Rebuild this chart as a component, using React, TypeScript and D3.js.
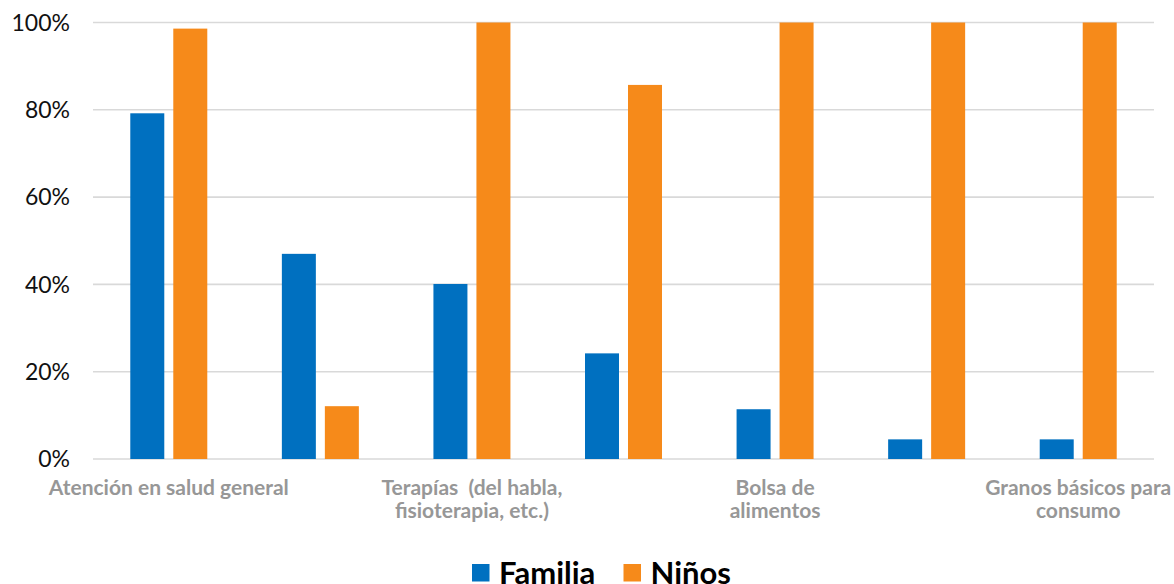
import React from "react";
import * as d3 from "d3";

// Share of households receiving each kind of support, by recipient
const categories: string[][] = [
  ["Atención en salud general"],
  [],
  ["Terapías  (del habla,", "fisioterapia, etc.)"],
  [],
  ["Bolsa de", "alimentos"],
  [],
  ["Granos básicos para", "consumo"],
];
const seriesNames = ["Familia", "Niños"];
const familia = [79.2, 47.0, 40.1, 24.2, 11.4, 4.5, 4.5];
const ninos = [98.6, 12.1, 100, 85.7, 100, 100, 100];
const yTicks = [0, 20, 40, 60, 80, 100];

const colors = ["#0070C0", "#F68A1A"];
const WIDTH = 1174;
const HEIGHT = 584;
const FONT = "Lato, 'Open Sans', sans-serif";

export default function App() {
  const left = 93;
  const right = 1154;
  const top = 22.5;
  const bottom = 459;

  const x = d3
    .scaleBand<number>()
    .domain(d3.range(categories.length))
    .range([left, right])
    .paddingInner(0)
    .paddingOuter(0);
  const step = x.bandwidth();
  const groupW = step * 0.508;
  const xs = d3
    .scaleBand<number>()
    .domain(d3.range(seriesNames.length))
    .range([(step - groupW) / 2, (step + groupW) / 2])
    .paddingInner(9 / 43);

  const y = d3.scaleLinear().domain([0, 100]).range([bottom, top]);
  const fmt = (v: number) => `${v}%`;
  const series = [familia, ninos];

  return (
    <svg
      width={WIDTH}
      height={HEIGHT}
      style={{ position: "absolute", left: 0, top: 0, background: "#fff" }}
      fontFamily={FONT}
    >
      {/* gridlines and y tick labels */}
      {yTicks.map((t) => (
        <g key={t}>
          <line
            x1={left}
            x2={right}
            y1={y(t)}
            y2={y(t)}
            stroke="#d9d9d9"
            strokeWidth={1.6}
          />
          <text
            x={70}
            y={y(t)}
            dy="0.36em"
            textAnchor="end"
            fontSize={23}
            fill="#111"
          >
            {fmt(t)}
          </text>
        </g>
      ))}

      {/* bars */}
      {series.map((vals, si) => (
        <g key={si} fill={colors[si]}>
          {vals.map((v, ci) => (
            <rect
              key={ci}
              x={(x(ci) as number) + (xs(si) as number)}
              width={xs.bandwidth()}
              y={y(v)}
              height={y(0) - y(v)}
            />
          ))}
        </g>
      ))}

      {/* category labels */}
      {categories.map((lines, ci) => (
        <text
          key={ci}
          x={(x(ci) as number) + step / 2}
          textAnchor="middle"
          fontSize={21}
          fontWeight={700}
          fill="#979797"
        >
          {lines.map((ln, li) => (
            <tspan key={li} x={(x(ci) as number) + step / 2} y={494.5 + li * 23.2} style={{ whiteSpace: "pre" }}>
              {ln}
            </tspan>
          ))}
        </text>
      ))}

      {/* legend */}
      {seriesNames.map((name, si) => {
        const lx = [472, 623.5][si];
        return (
          <g key={name}>
            <rect x={lx} y={564} width={17.5} height={17.5} fill={colors[si]} />
            <text x={lx + 27} y={583.5} fontSize={31} fontWeight={700} fill="#000">
              {name}
            </text>
          </g>
        );
      })}
    </svg>
  );
}
